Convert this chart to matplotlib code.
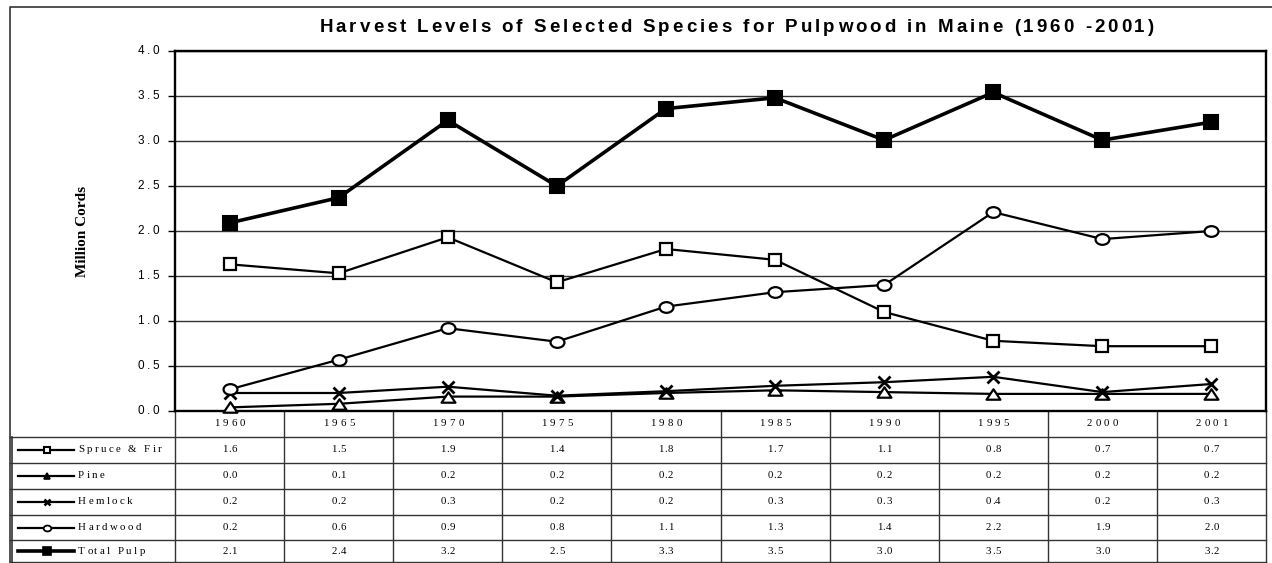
import numpy as np
import matplotlib
matplotlib.use('Agg')
import matplotlib.pyplot as plt
from matplotlib.path import Path
from matplotlib.font_manager import FontProperties
from matplotlib.transforms import Affine2D, blended_transform_factory, offset_copy

years = ['1960', '1965', '1970', '1975', '1980', '1985', '1990', '1995', '2000', '2001']
names = ['Spruce & Fir', 'Pine', 'Hemlock', 'Hardwood', 'Total Pulp']
# values
spruce = [1.63, 1.53, 1.93, 1.43, 1.80, 1.68, 1.10, 0.78, 0.72, 0.72]
pine = [0.04, 0.08, 0.16, 0.16, 0.20, 0.23, 0.21, 0.19, 0.19, 0.19]
hemlock = [0.20, 0.20, 0.27, 0.17, 0.22, 0.28, 0.32, 0.38, 0.21, 0.30]
hardwood = [0.24, 0.57, 0.92, 0.77, 1.16, 1.32, 1.40, 2.21, 1.91, 2.00]
total = [2.09, 2.37, 3.23, 2.50, 3.36, 3.48, 3.01, 3.54, 3.01, 3.21]
# values printed in the table
spruce_tab = ['1.6', '1.5', '1.9', '1.4', '1.8', '1.7', '1.1', '0.8', '0.7', '0.7']
pine_tab = ['0.0', '0.1', '0.2', '0.2', '0.2', '0.2', '0.2', '0.2', '0.2', '0.2']
hemlock_tab = ['0.2', '0.2', '0.3', '0.2', '0.2', '0.3', '0.3', '0.4', '0.2', '0.3']
hardwood_tab = ['0.2', '0.6', '0.9', '0.8', '1.1', '1.3', '1.4', '2.2', '1.9', '2.0']
total_tab = ['2.1', '2.4', '3.2', '2.5', '3.3', '3.5', '3.0', '3.5', '3.0', '3.2']
yticks = [0.0, 0.5, 1.0, 1.5, 2.0, 2.5, 3.0, 3.5, 4.0]

ellipse = Path.unit_circle().transformed(Affine2D().scale(1.3, 1.0))
tri = Path([(-1, -0.75), (1, -0.75), (0, 0.75), (-1, -0.75)],
           [Path.MOVETO, Path.LINETO, Path.LINETO, Path.CLOSEPOLY])

series = [spruce, pine, hemlock, hardwood, total]
tabs = [spruce_tab, pine_tab, hemlock_tab, hardwood_tab, total_tab]
styles = [dict(marker='s', mfc='white', ms=9, mew=1.6, lw=1.6),
          dict(marker=tri, mfc='white', ms=10, mew=1.6, lw=1.6),
          dict(marker='x', mfc='white', ms=9, mew=2, lw=1.6),
          dict(marker=ellipse, mfc='white', ms=10, mew=1.6, lw=1.6),
          dict(marker='s', mfc='black', ms=9.5, mew=1.5, lw=2.6)]
keys = [dict(marker='s', mfc='white', ms=5, mew=1.5, lw=1.6),
        dict(marker='^', mfc='black', ms=5, mew=1.2, lw=1.6),
        dict(marker='x', mfc='white', ms=5, mew=1.8, lw=1.6),
        dict(marker=ellipse, mfc='white', ms=5.5, mew=1.3, lw=1.6),
        dict(marker='s', mfc='black', ms=6, mew=1.2, lw=2.6)]

W, H = 1272, 563
fig = plt.figure(figsize=(W / 100, H / 100), dpi=100)
L, R, T, B = 175, 1266, 51, 411
ax = fig.add_axes([L / W, 1 - B / H, (R - L) / W, (B - T) / H])
ov = fig.add_axes([0, 0, 1, 1], zorder=-1)
ov.set_xlim(0, W)
ov.set_ylim(H, 0)
ov.axis('off')
rend = fig.canvas.get_renderer()


def spaced(x, y, s, sp, trans, ha='center', **font):
    # text with extra letter spacing, sp in pixels
    fp = FontProperties(**font)
    wid = lambda t: rend.get_text_width_height_descent(t, fp, ismath=False)[0]
    bar = wid('|')
    pos = [0.0] + [wid(s[:i] + '|') - bar + i * sp for i in range(1, len(s))]
    full = pos[-1] + wid(s[-1])
    start = {'left': 0, 'center': -full / 2, 'right': -full}[ha]
    for ch, p in zip(s, pos):
        if ch == ' ':
            continue
        ov.text(x, y, ch, transform=offset_copy(trans, fig=fig, x=start + p, units='dots'),
                ha='left', va='center', fontproperties=fp)


x = np.arange(len(years))
for s, st in zip(series, styles):
    ax.plot(x, s, color='black', mec='black', clip_on=False, zorder=3, **st)

ax.set_xlim(-0.5, len(years) - 0.5)
ax.set_ylim(0, 4)
ax.set_yticks(yticks)
ax.set_yticklabels([])
ax.tick_params(axis='y', length=5, width=1)
ax.set_xticks([])
ax.grid(axis='y', color='#333333', lw=1)
for sp in ax.spines.values():
    sp.set_linewidth(1.7)

sans = dict(family='Liberation Sans', size=8.5)
serif = dict(family='Liberation Serif', size=7.8)
yt = blended_transform_factory(ov.transData, ax.transData)
for v in yticks:
    spaced(159, v, '%.1f' % v, 2.6, yt, ha='right', **sans)

spaced((320 + 1153) / 2, 27, 'Harvest Levels of Selected Species for Pulpwood in Maine (1960 -2001)',
       3.0, ov.transData, family='Liberation Sans', weight='bold', size=13.5)
fig.text(82 / W, 1 - (T + B) / 2 / H, 'Million Cords', rotation=90, ha='center', va='center',
         family='Liberation Serif', fontweight='bold', fontsize=11)

# outer frame
ov.plot([10, 10, W], [H, 7, 7], color='#333333', lw=1.2)

# table below the plot
rows = [411, 437, 463, 489, 515, 540, 562]
ov.plot([12, 12], [437, 562], color='#333333', lw=1.2)
for y in rows[1:]:
    ov.plot([10, R], [y, y], color='#333333', lw=1)
bt = blended_transform_factory(ax.transData, ov.transData)
for i in range(len(years) + 1):
    ov.plot([i - 0.5, i - 0.5], [411, 562], color='#333333', lw=1, transform=bt)
for i, yr in enumerate(years):
    spaced(i, (rows[0] + rows[1]) / 2, yr, 3.3, bt, **serif)
for r in range(len(names)):
    yc = (rows[r + 1] + rows[r + 2]) / 2
    ov.plot([18, 47, 74], [yc, yc, yc], color='black', mec='black', markevery=[1], **keys[r])
    spaced(78, yc, names[r], 2.4, ov.transData, ha='left', **serif)
    for i, v in enumerate(tabs[r]):
        spaced(i, yc, v, 0.6, bt, **serif)

fig.savefig('out.png', dpi=100)
